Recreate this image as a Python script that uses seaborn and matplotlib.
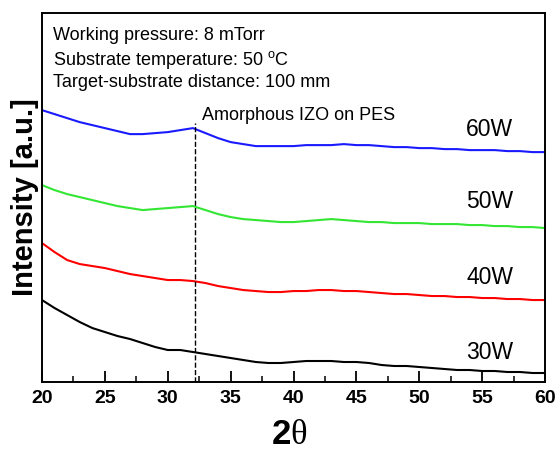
import numpy as np
import pandas as pd
import matplotlib
matplotlib.use("Agg")
import matplotlib.pyplot as plt
from matplotlib.ticker import MultipleLocator
import seaborn as sns

# 2-theta positions (deg) and intensities (a.u.)
two_theta = list(range(20, 61))
i_60w = [272, 268, 264, 260, 257, 254, 251, 248, 248, 249, 250, 252, 254, 249, 244, 240, 238, 236, 236, 236, 236,
         237, 237, 237, 238, 237, 237, 236, 235, 235, 234, 234, 233, 233, 232, 232, 232, 231, 231, 230, 230]
i_50w = [197, 192, 188, 185, 182, 179, 176, 174, 172, 173, 174, 175, 176, 172, 168, 165, 163, 162, 161, 160, 160,
         161, 162, 163, 162, 161, 160, 160, 159, 159, 159, 158, 158, 158, 157, 157, 156, 156, 155, 155, 154]
i_40w = [139, 130, 122, 118, 116, 114, 111, 108, 106, 104, 102, 102, 101, 99, 96, 94, 92, 91, 90, 90, 91,
         91, 92, 92, 91, 91, 90, 89, 88, 88, 87, 86, 86, 85, 85, 84, 84, 83, 83, 82, 82]
i_30w = [82, 74, 67, 60, 54, 50, 46, 43, 39, 35, 32, 32, 30, 28, 26, 24, 22, 20, 19, 19, 20,
         21, 21, 21, 20, 20, 19, 17, 16, 16, 15, 14, 13, 12, 12, 11, 11, 10, 10, 9, 9]

powers = ["30W", "40W", "50W", "60W"]
colors = {"30W": "black", "40W": "red", "50W": "#33e633", "60W": "#1a1aff"}
label_y = {"30W": 30, "40W": 105, "50W": 181, "60W": 253}
peak_pos = 32.2

df = pd.concat([
    pd.DataFrame({"2theta": two_theta, "intensity": vals, "power": p})
    for p, vals in zip(powers, [i_30w, i_40w, i_50w, i_60w])
])

sns.set_style("ticks")
plt.rcParams["font.family"] = ["Liberation Sans", "DejaVu Sans"]
plt.rcParams["mathtext.fontset"] = "custom"
plt.rcParams["mathtext.rm"] = "Liberation Sans"
plt.rcParams["text.color"] = "black"
plt.rcParams["axes.labelcolor"] = "black"
plt.rcParams["axes.edgecolor"] = "black"
plt.rcParams["xtick.color"] = "black"

fig = plt.figure(figsize=(5.59, 4.54), dpi=100)
ax = fig.add_axes([0.0751, 0.1586, 0.9, 0.8124])

sns.lineplot(data=df, x="2theta", y="intensity", hue="power", palette=colors,
             linewidth=1.5, legend=False, ax=ax)

ax.axvline(peak_pos, ymin=0, ymax=259 / 369, color="black", linestyle="--", linewidth=1)

ax.set_xlim(20, 60)
ax.set_ylim(0, 369)
ax.set_yticks([])
ax.xaxis.set_major_locator(MultipleLocator(5))
ax.xaxis.set_minor_locator(MultipleLocator(2.5))
ax.tick_params(axis="x", which="major", direction="in", length=8, width=1.3, labelsize=14, pad=6)
ax.tick_params(axis="x", which="minor", direction="in", length=4.5, width=1.1)
for lab in ax.get_xticklabels():
    lab.set_fontweight("bold")
for s in ax.spines.values():
    s.set_linewidth(1.4)

ax.set_xlabel("")
ax.set_ylabel("Intensity [a.u.]", fontsize=21, fontweight="bold", labelpad=2)

ax.text(20.87, 342, "Working pressure: 8 mTorr", fontsize=13, va="baseline")
ax.text(20.87, 317, r"Substrate temperature: 50 $^\mathrm{o}$C", fontsize=13, va="baseline")
ax.text(20.87, 295, "Target-substrate distance: 100 mm", fontsize=13, va="baseline")
ax.text(32.72, 262, "Amorphous IZO on PES", fontsize=13, va="baseline")

for p in powers:
    ax.text(55.6, label_y[p], p, fontsize=16.5, ha="center", va="center")

fig.text(291 / 559, 0.022, "2", fontsize=25, fontweight="bold", ha="right", va="baseline")
fig.text(290 / 559, 0.022, "θ", fontsize=25, family="Liberation Serif", ha="left", va="baseline")

fig.savefig("out.png", dpi=100)
